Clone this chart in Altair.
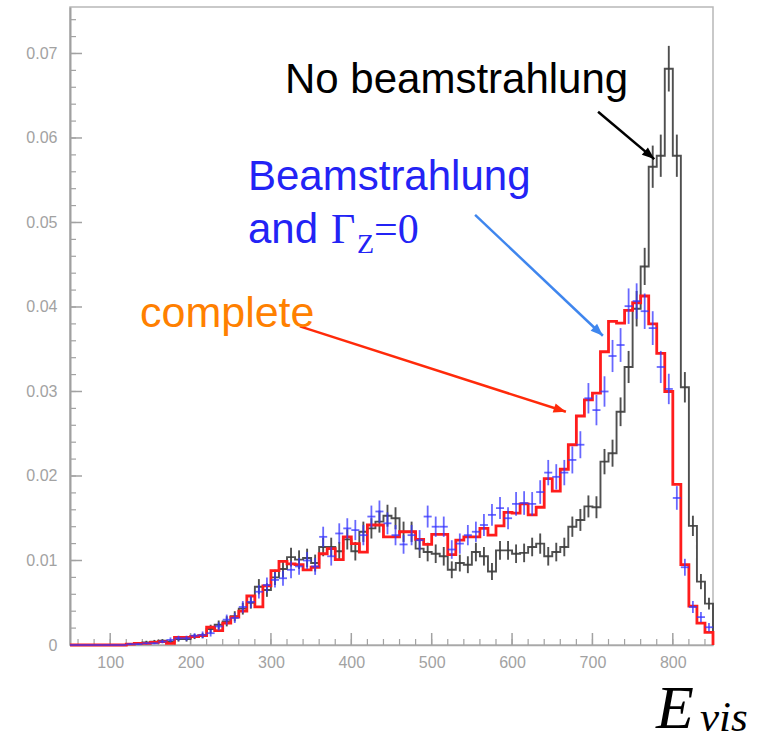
import altair as alt
import pandas as pd

# ---------------- data ----------------
bin_lo = list(range(50, 850, 10))          # 80 bins of width 10, 50..850

no_beam = [0, 0, 0, 0, 0, 0, 0, 0.0001, 0.0002, 0.0003,
           0.0004, 0.0005, 0.0004, 0.0007, 0.0007, 0.0010, 0.0011, 0.0019, 0.0024, 0.0028,
           0.0034, 0.0043, 0.0050, 0.0069, 0.0065, 0.0080, 0.0090, 0.0104, 0.0101, 0.0103,
           0.0097, 0.0116, 0.0116, 0.0111, 0.0125, 0.0111, 0.0134, 0.0138, 0.0146, 0.0153,
           0.0150, 0.0134, 0.0134, 0.0114, 0.0110, 0.0108, 0.0105, 0.0089, 0.0097, 0.0095,
           0.0110, 0.0105, 0.0087, 0.0112, 0.0112, 0.0108, 0.0109, 0.0116, 0.0120, 0.0105,
           0.0110, 0.0116, 0.0140, 0.0148, 0.0164, 0.0163, 0.0217, 0.0227, 0.0276, 0.0329,
           0.0398, 0.0448, 0.0566, 0.0579, 0.0682, 0.0579, 0.0305, 0.0141, 0.0075, 0.0049]
no_beam_err = [0, 0, 0, 0, 0, 0, 0, 0.0001, 0.0001, 0.0002,
               0.0002, 0.0002, 0.0002, 0.0003, 0.0003, 0.0003, 0.0003, 0.0005, 0.0005, 0.0006,
               0.0006, 0.0007, 0.0007, 0.0009, 0.0008, 0.0009, 0.0010, 0.0011, 0.0011, 0.0011,
               0.0010, 0.0011, 0.0011, 0.0011, 0.0012, 0.0011, 0.0012, 0.0012, 0.0013, 0.0013,
               0.0013, 0.0012, 0.0012, 0.0011, 0.0011, 0.0011, 0.0011, 0.0010, 0.0010, 0.0010,
               0.0011, 0.0011, 0.0010, 0.0011, 0.0011, 0.0011, 0.0011, 0.0011, 0.0012, 0.0011,
               0.0011, 0.0011, 0.0012, 0.0013, 0.0013, 0.0013, 0.0015, 0.0016, 0.0017, 0.0019,
               0.0021, 0.0022, 0.0025, 0.0025, 0.0027, 0.0025, 0.0018, 0.0012, 0.0009, 0.0007]

complete = [0, 0, 0, 0, 0, 0, 0, 0.0001, 0.0002, 0.0002,
            0.0003, 0.0004, 0.0002, 0.0009, 0.0009, 0.0010, 0.0011, 0.0021, 0.0017, 0.0026,
            0.0033, 0.0040, 0.0058, 0.0045, 0.0070, 0.0088, 0.0099, 0.0096, 0.0095, 0.0089,
            0.0092, 0.0108, 0.0114, 0.0101, 0.0128, 0.0120, 0.0110, 0.0142, 0.0142, 0.0128,
            0.0128, 0.0134, 0.0134, 0.0125, 0.0119, 0.0131, 0.0131, 0.0107, 0.0124, 0.0128,
            0.0128, 0.0138, 0.0130, 0.0141, 0.0157, 0.0156, 0.0167, 0.0154, 0.0163, 0.0197,
            0.0182, 0.0208, 0.0237, 0.0271, 0.0290, 0.0298, 0.0347, 0.0383, 0.0381, 0.0396,
            0.0405, 0.0413, 0.0380, 0.0345, 0.0300, 0.0190, 0.0095, 0.0046, 0.0026, 0.0015]

beam_gz0 = [0, 0, 0, 0, 0, 0, 0, 0.0001, 0.0001, 0.0002,
            0.0002, 0.0004, 0.0006, 0.0008, 0.0008, 0.0011, 0.0012, 0.0014, 0.0022, 0.0030,
            0.0032, 0.0045, 0.0051, 0.0063, 0.0071, 0.0077, 0.0079, 0.0089, 0.0093, 0.0100,
            0.0093, 0.0128, 0.0105, 0.0132, 0.0138, 0.0136, 0.0130, 0.0152, 0.0158, 0.0144,
            0.0130, 0.0119, 0.0130, 0.0124, 0.0152, 0.0140, 0.0140, 0.0113, 0.0120, 0.0130,
            0.0134, 0.0142, 0.0154, 0.0162, 0.0150, 0.0167, 0.0168, 0.0167, 0.0181, 0.0204,
            0.0199, 0.0204, 0.0219, 0.0237, 0.0292, 0.0278, 0.0300, 0.0342, 0.0355, 0.0401,
            0.0407, 0.0395, 0.0375, 0.0329, 0.0303, 0.0174, 0.0092, 0.0045, 0.0033, 0.0021]
beam_gz0_err = [0, 0, 0, 0, 0, 0, 0, 0.0001, 0.0001, 0.0001,
                0.0001, 0.0002, 0.0003, 0.0003, 0.0003, 0.0003, 0.0004, 0.0004, 0.0005, 0.0006,
                0.0006, 0.0007, 0.0007, 0.0008, 0.0009, 0.0009, 0.0009, 0.0010, 0.0010, 0.0010,
                0.0010, 0.0012, 0.0011, 0.0012, 0.0012, 0.0012, 0.0012, 0.0013, 0.0013, 0.0013,
                0.0012, 0.0011, 0.0012, 0.0012, 0.0013, 0.0012, 0.0012, 0.0011, 0.0012, 0.0012,
                0.0012, 0.0013, 0.0013, 0.0013, 0.0013, 0.0014, 0.0014, 0.0014, 0.0014, 0.0015,
                0.0015, 0.0015, 0.0016, 0.0016, 0.0018, 0.0018, 0.0018, 0.0019, 0.0020, 0.0021,
                0.0021, 0.0021, 0.0020, 0.0019, 0.0018, 0.0014, 0.0010, 0.0007, 0.0006, 0.0005]

x_label_values = [100, 200, 300, 400, 500, 600, 700, 800]
y_label_values = [0, 0.01, 0.02, 0.03, 0.04, 0.05, 0.06, 0.07]
x_minor_ticks = list(range(60, 850, 20))
y_minor_ticks = [round(0.002 * k, 3) for k in range(1, 38)]

# arrows: start (x, y) -> tip (x2, y2) in data units, head angle in degrees
arrow_name = ["black", "blue", "red"]
arrow_x = [707, 554, 336]
arrow_y = [0.0631, 0.0509, 0.0377]
arrow_x2 = [777, 713, 667]
arrow_y2 = [0.0575, 0.0366, 0.0276]
arrow_angle = [130, 133, 108]
arrow_color = ["#000000", "#3f86ee", "#ff2a0a"]

# ---------------- tables ----------------
hist = pd.DataFrame({
    "lo": bin_lo,
    "hi": [b + 10 for b in bin_lo],
    "mid": [b + 5 for b in bin_lo],
    "black": no_beam,
    "black_err": no_beam_err,
    "blue": beam_gz0,
    "blue_err": beam_gz0_err,
})
hist["black_lo"] = hist["black"] - hist["black_err"]
hist["black_hi"] = hist["black"] + hist["black_err"]
hist["blue_lo"] = hist["blue"] - hist["blue_err"]
hist["blue_hi"] = hist["blue"] + hist["blue_err"]

steps = pd.DataFrame({
    "x": bin_lo + [850],
    "black": no_beam + [0],
    "red": complete + [0],
})
arrows = pd.DataFrame({"name": arrow_name, "x": arrow_x, "y": arrow_y,
                       "x2": arrow_x2, "y2": arrow_y2, "angle": arrow_angle,
                       "color": arrow_color})
xmaj = pd.DataFrame({"v": x_label_values})
xmin = pd.DataFrame({"v": x_minor_ticks})
ymaj = pd.DataFrame({"v": y_label_values})
ymin = pd.DataFrame({"v": y_minor_ticks})
one = pd.DataFrame({"a": [0]})

W, H = 643, 638
xs = alt.Scale(domain=[50, 850], nice=False, zero=False)
ys = alt.Scale(domain=[0, 0.0755], nice=False, zero=False)
GRAY = "#a2a2a2"
xaxis = alt.Axis(values=x_label_values, format="d", ticks=False, grid=False,
                 labelColor=GRAY, labelFontSize=16, labelFont="Liberation Sans",
                 labelPadding=9, domainColor="#a8a8a8", domainWidth=1.5, title=None)
yaxis = alt.Axis(values=y_label_values, format=".2~f", ticks=False, grid=False,
                 labelColor=GRAY, labelFontSize=16, labelFont="Liberation Sans",
                 labelPadding=13, domainColor="#a0a0a0", domainWidth=2, title=None)


def X(f):
    return alt.X(f, type="quantitative", scale=xs, axis=xaxis)


def Y(f):
    return alt.Y(f, type="quantitative", scale=ys, axis=yaxis)


# inward ticks
xt_major = alt.Chart(xmaj).mark_rule(color=GRAY, strokeWidth=1.5).encode(
    x=X("v"), y=alt.value(H), y2=alt.value(H - 12))
xt_minor = alt.Chart(xmin).mark_rule(color=GRAY, strokeWidth=1.2).encode(
    x=X("v"), y=alt.value(H), y2=alt.value(H - 6))
yt_major = alt.Chart(ymaj).mark_rule(color=GRAY, strokeWidth=1.5).encode(
    y=Y("v"), x=alt.value(0), x2=alt.value(12))
yt_minor = alt.Chart(ymin).mark_rule(color=GRAY, strokeWidth=1.2).encode(
    y=Y("v"), x=alt.value(0), x2=alt.value(6))

# histograms
black_line = alt.Chart(steps).mark_line(interpolate="step-after", color="#3c3c3c",
                                        strokeWidth=1.9, opacity=0.9).encode(
    x=X("x"), y=Y("black"))
black_err = alt.Chart(hist).mark_rule(color="#3c3c3c", strokeWidth=1.9, opacity=0.9).encode(
    x=X("mid"), y=Y("black_lo"), y2="black_hi")

red_line = alt.Chart(steps).mark_line(interpolate="step-after", color="#ff1c1c",
                                      strokeWidth=2.8).encode(
    x=X("x"), y=Y("red"))

blue_h = alt.Chart(hist).mark_rule(color="#3535ff", strokeWidth=1.8, opacity=0.75).encode(
    x=X("lo"), x2="hi", y=Y("blue"))
blue_v = alt.Chart(hist).mark_rule(color="#3535ff", strokeWidth=1.8, opacity=0.75).encode(
    x=X("mid"), y=Y("blue_lo"), y2="blue_hi")

# arrows
arrow_lines = alt.Chart(arrows).mark_rule(strokeWidth=2.5).encode(
    x=X("x"), y=Y("y"), x2="x2", y2="y2",
    color=alt.Color("color:N", scale=None))
arrow_heads = alt.Chart(arrows).mark_point(
    shape="M0,0L-1,2.6L1,2.6Z", filled=True, opacity=1, size=90).encode(
    x=X("x2"), y=Y("y2"), angle=alt.Angle("angle:Q", scale=None),
    color=alt.Color("color:N", scale=None))


def label(txt, x, y, size, color, font="Liberation Sans", style="normal"):
    return alt.Chart(one).mark_text(text=txt, align="left", baseline="alphabetic",
                                    fontSize=size, color=color, font=font,
                                    fontStyle=style).encode(
        x=alt.value(x), y=alt.value(y))


texts = [
    label("No beamstrahlung", 215, 86, 42, "#000000"),
    label("Beamstrahlung", 178, 183, 42, "#2323f5"),
    label("and", 178, 236, 42, "#2323f5"),
    label("\u0393", 261, 236, 42, "#2323f5", font="Liberation Serif"),
    label("Z", 287, 246, 28, "#2323f5", font="Liberation Serif"),
    label("=0", 304, 236, 42, "#2323f5", font="Liberation Serif"),
    label("complete", 70, 320, 43, "#ff8000"),
    label("E", 586, 721, 62, "#000000", font="Liberation Serif", style="italic"),
    label("vis", 630, 724, 43, "#000000", font="Liberation Serif", style="italic"),
]

chart = alt.layer(
    xt_minor, xt_major, yt_minor, yt_major,
    black_line, black_err, red_line, blue_h, blue_v,
    arrow_lines, arrow_heads, *texts
).properties(
    width=W, height=H,
    padding={"left": 70, "top": 7, "right": 53, "bottom": 97},
    autosize=alt.AutoSizeParams(type="none"),
    background="white",
).configure_view(
    stroke="#b8b8b8", strokeWidth=1.5
)

chart.save("out.html", embed_options={"renderer": "svg", "actions": False})
